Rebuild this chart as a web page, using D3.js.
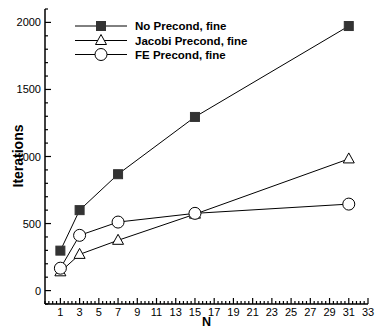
<!DOCTYPE html>
<html>
<head>
<meta charset="utf-8">
<script src="https://cdn.jsdelivr.net/npm/d3@7"></script>
<style>
  body { margin: 0; background: #fff; }
  svg { font-family: "Liberation Sans", Arial, Helvetica, sans-serif; }
</style>
</head>
<body>
<div id="chart"></div>
<script>
const nValues = [1, 3, 7, 15, 31];
const noPrecond = [298, 600, 868, 1295, 1973];
const jacobiPrecond = [140, 270, 375, 570, 982];
const fePrecond = [167, 412, 511, 576, 645];
const seriesNames = ['No Precond, fine', 'Jacobi Precond, fine', 'FE Precond, fine'];
const xTickLabels = [1, 3, 5, 7, 9, 11, 13, 15, 17, 19, 21, 23, 25, 27, 29, 31, 33];
const yTickLabels = [0, 500, 1000, 1500, 2000];

const width = 376, height = 329;
const margin = {top: 9, right: 8, bottom: 25, left: 45};

const svg = d3.select('#chart').append('svg')
  .attr('width', width)
  .attr('height', height);

const x = d3.scaleLinear().domain([-0.6, 33]).range([margin.left, width - margin.right]);
const y = d3.scaleLinear().domain([-100, 2100]).range([height - margin.bottom, margin.top]);

const x0 = margin.left, y0 = height - margin.bottom;

// minor ticks
const xMinor = d3.range(-0.6, 33.001, 0.4).filter(v => !xTickLabels.some(t => Math.abs(t - v) < 0.01));
const yMinor = d3.range(-100, 2101, 100).filter(v => v % 500 !== 0);

const axes = svg.append('g').attr('stroke', '#000').attr('stroke-width', 1.2);
axes.selectAll('.xmaj').data(xTickLabels).enter().append('line')
  .attr('x1', d => x(d)).attr('x2', d => x(d))
  .attr('y1', y0).attr('y2', y0 - 6);
axes.selectAll('.xmin').data(xMinor).enter().append('line')
  .attr('x1', d => x(d)).attr('x2', d => x(d))
  .attr('y1', y0).attr('y2', y0 - 3);
axes.selectAll('.ymaj').data(yTickLabels).enter().append('line')
  .attr('x1', x0).attr('x2', x0 + 6)
  .attr('y1', d => y(d)).attr('y2', d => y(d));
axes.selectAll('.ymin').data(yMinor).enter().append('line')
  .attr('x1', x0).attr('x2', x0 + 3)
  .attr('y1', d => y(d)).attr('y2', d => y(d));
axes.append('line').attr('x1', x0).attr('x2', x0).attr('y1', y(2100)).attr('y2', y0).attr('stroke-width', 1.5);
axes.append('line').attr('x1', x0).attr('x2', x(33)).attr('y1', y0).attr('y2', y0).attr('stroke-width', 1.5);

svg.selectAll('.xlab').data(xTickLabels).enter().append('text')
  .attr('x', d => x(d)).attr('y', y0 + 12)
  .attr('text-anchor', 'middle')
  .style('font-size', '11px')
  .text(d => d);

svg.selectAll('.ylab').data(yTickLabels).enter().append('text')
  .attr('x', x0 - 4).attr('y', d => y(d) + 4)
  .attr('text-anchor', 'end')
  .style('font-size', '11px')
  .text(d => d);

svg.append('text')
  .attr('x', (x0 + x(33)) / 2).attr('y', 326)
  .attr('text-anchor', 'middle')
  .style('font-size', '12.5px').style('font-weight', 'bold')
  .text('N');

svg.append('text')
  .attr('transform', 'translate(23,156) rotate(-90)')
  .attr('text-anchor', 'middle')
  .style('font-size', '14px').style('font-weight', 'bold')
  .text('Iterations');

const line = d3.line().x((d, i) => x(nValues[i])).y(d => y(d));

const allSeries = [noPrecond, jacobiPrecond, fePrecond];
const markers = ['square', 'triangle', 'circle'];

function drawMarker(g, type, cx, cy) {
  if (type === 'square') {
    g.append('rect').attr('x', cx - 4.5).attr('y', cy - 4.5).attr('width', 9).attr('height', 9)
      .attr('fill', '#333').attr('stroke', '#333');
  } else if (type === 'triangle') {
    g.append('path')
      .attr('d', `M${cx},${cy - 6}L${cx + 5.5},${cy + 4}L${cx - 5.5},${cy + 4}Z`)
      .attr('fill', '#fff').attr('stroke', '#000').attr('stroke-width', 1);
  } else {
    g.append('circle').attr('cx', cx).attr('cy', cy).attr('r', 6)
      .attr('fill', '#fff').attr('stroke', '#000').attr('stroke-width', 1);
  }
}

allSeries.forEach((s, k) => {
  svg.append('path').datum(s)
    .attr('d', line)
    .attr('fill', 'none')
    .attr('stroke', '#000')
    .attr('stroke-width', 1);
});
allSeries.forEach((s, k) => {
  const g = svg.append('g');
  s.forEach((v, i) => drawMarker(g, markers[k], x(nValues[i]), y(v)));
});

// legend
const legend = svg.append('g');
const legendY = [26, 40.5, 54.5];
seriesNames.forEach((name, k) => {
  legend.append('line')
    .attr('x1', 75).attr('x2', 127)
    .attr('y1', legendY[k]).attr('y2', legendY[k])
    .attr('stroke', '#000').attr('stroke-width', 1);
  drawMarker(legend, markers[k], 101, legendY[k]);
  legend.append('text')
    .attr('x', 135).attr('y', legendY[k] + 4)
    .style('font-size', '11.5px').style('font-weight', 'bold')
    .text(name);
});
</script>
</body>
</html>
